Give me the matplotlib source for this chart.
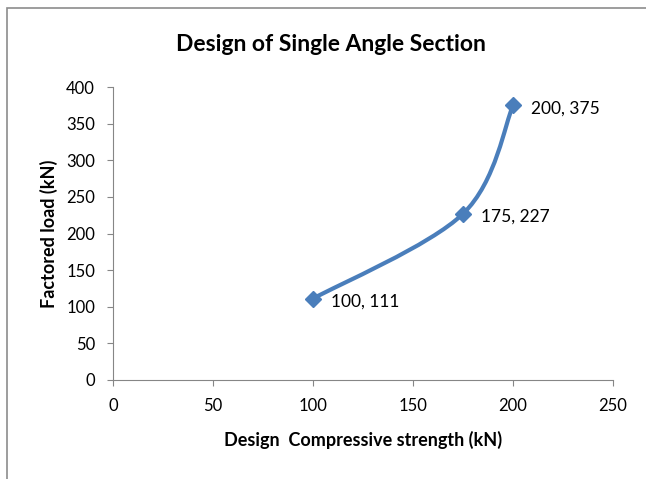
import numpy as np
import matplotlib.pyplot as plt
from matplotlib.path import Path
from matplotlib.patches import PathPatch, Rectangle

plt.rcParams['font.family'] = ['Lato', 'DejaVu Sans']

# data
strength = [100, 175, 200]
load = [111, 227, 375]
labels = ['100, 111', '175, 227', '200, 375']
xticks = [0, 50, 100, 150, 200, 250]
yticks = [0, 50, 100, 150, 200, 250, 300, 350, 400]

blue = '#4a7ebb'
grey = '#868686'

fig = plt.figure(figsize=(6.46, 4.79), dpi=100)
ax = fig.add_axes([0.175, 0.207, 0.774, 0.611])

# Excel-style smoothed line: cubic Bezier through the points
pts = np.column_stack([strength, load]).astype(float)
ext = np.vstack([pts[0], pts, pts[-1]])
verts = [tuple(pts[0])]
codes = [Path.MOVETO]
for i in range(len(pts) - 1):
    p0, p1, p2, p3 = ext[i], ext[i + 1], ext[i + 2], ext[i + 3]
    c1 = p1 + (p2 - p0) / 6
    c2 = p2 - (p3 - p1) / 6
    verts += [tuple(c1), tuple(c2), tuple(p2)]
    codes += [Path.CURVE4] * 3
ax.add_patch(PathPatch(Path(verts, codes), fill=False, edgecolor=blue,
                       lw=3.0, capstyle='round', zorder=2))
ax.plot(strength, load, ls='none', marker='D', ms=8.5, color=blue, zorder=3)

for x, y, s in zip(strength, load, labels):
    ax.annotate(s, (x, y), xytext=(13, -2), textcoords='offset points',
                fontsize=12.5, va='center', ha='left')

ax.set_xlim(0, 250)
ax.set_ylim(0, 400)
ax.set_xticks(xticks)
ax.set_yticks(yticks)
for side in ['top', 'right']:
    ax.spines[side].set_visible(False)
for side in ['left', 'bottom']:
    ax.spines[side].set_color(grey)
ax.tick_params(direction='out', length=4, color=grey, labelsize=12, pad=9)

fig.suptitle('Design of Single Angle Section', x=0.512, y=0.908, va='center',
             fontsize=16.5, fontweight='bold')
ax.set_xlabel('Design  Compressive strength (kN)', fontsize=13, fontweight='bold', labelpad=12)
ax.set_ylabel('Factored load (kN)', fontsize=13, fontweight='bold', labelpad=6)

# chart frame (cropped at right and bottom)
fig.patches.append(Rectangle((7 / 646, -0.1), 1.1, 1 - 8 / 479 + 0.1,
                             transform=fig.transFigure, fill=False,
                             edgecolor='#8c8c8c', lw=1.2))

fig.savefig('out.png', dpi=100)
